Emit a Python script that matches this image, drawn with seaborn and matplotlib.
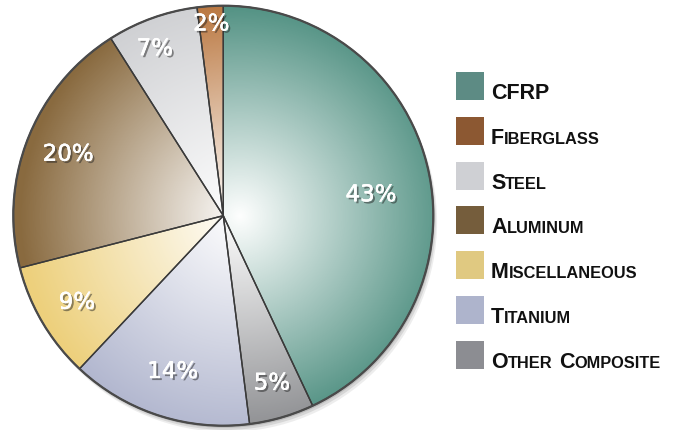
import numpy as np
import matplotlib
matplotlib.use("Agg")
import matplotlib.pyplot as plt
import matplotlib.patheffects as pe
from matplotlib.patches import Circle, Rectangle
from matplotlib.offsetbox import TextArea, HPacker, AnnotationBbox
import seaborn as sns

sns.set_theme(style="white")
plt.rcParams["font.family"] = ["DejaVu Sans"]

# slices, clockwise from 12 o'clock
materials = ["CFRP", "Other Composite", "Titanium", "Miscellaneous",
             "Aluminum", "Steel", "Fiberglass"]
shares = [43, 5, 14, 9, 20, 7, 2]
rim_colors = ["#4b8d7e", "#8c8d90", "#b2b7cf", "#edd07c",
              "#896a3f", "#cfd0d3", "#b8733a"]

legend_order = ["CFRP", "Fiberglass", "Steel", "Aluminum",
                "Miscellaneous", "Titanium", "Other Composite"]
legend_colors = ["#5d8b84", "#8c5832", "#cfd0d4", "#755d3c",
                 "#e0c981", "#aeb4cc", "#8c8d92"]

# where each percentage sits: fraction of radius, and turn (deg) off the slice middle
label_radius = [0.71, 0.83, 0.78, 0.81, 0.795, 0.86, 0.915]
label_turn = [-4.5, 0, 0, 0, 0, 2.5, 0]

W, H = 673, 431
fig = plt.figure(figsize=(W / 100, H / 100), dpi=100)
fig.patch.set_facecolor("white")

# pie axes placed so centre ~ (223, 217) px and radius ~210 px
lim = 1.02
R_px = 210 * lim
cx, cy = 223.3, H - 216.7
ax = fig.add_axes([(cx - R_px) / W, (cy - R_px) / H, 2 * R_px / W, 2 * R_px / H])

# soft drop shadow
for k, a in [(0.03, 0.10), (0.02, 0.15), (0.01, 0.2)]:
    ax.add_patch(Circle((k * 0.6, -k), 1.0, color="#555555", alpha=a, lw=0, zorder=0))

wedges, _, autotexts = ax.pie(
    shares, colors=rim_colors, startangle=90, counterclock=False,
    autopct="%d%%", pctdistance=0.8,
    wedgeprops=dict(linewidth=0, zorder=1),
    textprops=dict(color="white", fontsize=16.5, zorder=5),
)

# radial white highlight, brightest a bit right of centre
n = 600
xs = np.linspace(-1, 1, n)
gx, gy = np.meshgrid(xs, xs)
d = np.hypot(gx - 0.08, gy) / 1.05
alpha = np.clip(1 - d, 0, 1) ** 1.0
img = np.ones((n, n, 4))
img[..., 3] = alpha
im = ax.imshow(img, extent=[-1, 1, -1, 1], origin="lower", zorder=2,
               interpolation="bilinear")
im.set_clip_path(Circle((0, 0), 1.0, transform=ax.transData))

# slice borders on top of the highlight
ax.pie(shares, colors=["none"] * len(shares), startangle=90, counterclock=False,
       wedgeprops=dict(linewidth=1.0, edgecolor="#3a3a3a", zorder=3))
ax.add_patch(Circle((0, 0), 1.0, fill=False, ec="#4a4a4a", lw=1.6, zorder=4))

ax.set_xlim(-lim, lim)
ax.set_ylim(-lim, lim)
ax.set_aspect("equal")
ax.axis("off")

for t, r, turn in zip(autotexts, label_radius, label_turn):
    x, y = t.get_position()
    ang = np.arctan2(y, x) + np.radians(turn)
    t.set_position((r * np.cos(ang), r * np.sin(ang)))
    t.set_path_effects([
        pe.withSimplePatchShadow(offset=(1.5, -1.5), shadow_rgbFace="#222222", alpha=0.5),
        pe.withStroke(linewidth=0.3, foreground="white"),
    ])

# legend with small-caps labels
leg = fig.add_axes([0, 0, 1, 1])
leg.set_xlim(0, W)
leg.set_ylim(H, 0)
leg.axis("off")
leg.patch.set_alpha(0)

big = dict(fontsize=15.5, fontweight="bold", family="Liberation Sans", color="#111111")
small = dict(fontsize=11.8, fontweight="bold", family="Liberation Sans", color="#111111")


def small_caps(label):
    words = []
    for w in label.split():
        if w.isupper():
            parts = [TextArea(w, textprops=big)]
        else:
            parts = [TextArea(w[0].upper(), textprops=big),
                     TextArea(w[1:].upper(), textprops=small)]
        words.append(HPacker(children=parts, align="baseline", pad=0, sep=0))
    return HPacker(children=words, align="baseline", pad=0, sep=5)


for i, (name, col) in enumerate(zip(legend_order, legend_colors)):
    top = 73 + 44.8 * i
    leg.add_patch(Rectangle((456, top), 28, 28, color=col, lw=0))
    ab = AnnotationBbox(small_caps(name), (491, top + 31), xycoords="data",
                        box_alignment=(0, 0), frameon=False, pad=0)
    leg.add_artist(ab)

fig.savefig("out.png", dpi=100, facecolor="white")
